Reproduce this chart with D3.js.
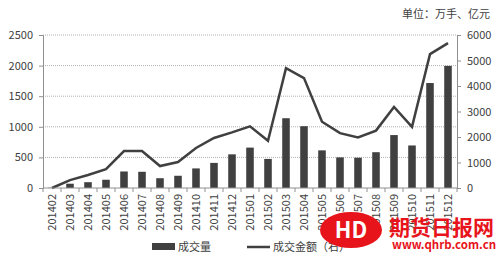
<!DOCTYPE html>
<html>
<head>
<meta charset="utf-8">
<script src="https://cdn.jsdelivr.net/npm/d3@7"></script>
<style>
  body { margin: 0; background: #fff; }
  text { font-family: "Noto Sans CJK SC", "DejaVu Sans", sans-serif; }
</style>
</head>
<body>
<div id="chart"></div>
<script>
// monthly categories
const months = ["201402","201403","201404","201405","201406","201407","201408","201409","201410","201411","201412",
  "201501","201502","201503","201504","201505","201506","201507","201508","201509","201510","201511","201512"];
// 成交量 (万手), left axis
const volume = [5,70,95,135,270,265,160,200,320,410,550,660,475,1140,1010,615,500,495,585,865,695,1715,1995];
// 成交金额 (亿元), right axis
const amount = [0,310,510,740,1450,1450,860,1020,1570,1960,2180,2420,1850,4700,4310,2600,2150,1980,2250,3180,2400,5250,5680];
const leftTicks = [0,500,1000,1500,2000,2500];
const rightTicks = [0,1000,2000,3000,4000,5000,6000];

const W = 500, H = 261;
const margin = {top: 35, right: 43, bottom: 73, left: 43};
const width = W - margin.left - margin.right,
      height = H - margin.top - margin.bottom;
const dark = "#404040";

const svg = d3.select("#chart").append("svg")
  .attr("width", W).attr("height", H);
const g = svg.append("g")
  .attr("transform", "translate(" + margin.left + "," + margin.top + ")");

const x = d3.scaleBand().domain(months).range([0, width]).paddingInner(0.58).paddingOuter(0.29);
const xb = d3.scaleBand().domain(months).range([0, width]);
const yL = d3.scaleLinear().domain([0, 2500]).range([height, 0]);
const yR = d3.scaleLinear().domain([0, 6000]).range([height, 0]);

// gridlines
g.selectAll("line.grid").data(leftTicks.slice(1)).enter().append("line")
  .attr("x1", 0).attr("x2", width)
  .attr("y1", d => yL(d)).attr("y2", d => yL(d))
  .attr("stroke", "#b0b0b0").attr("stroke-width", 1)
  .attr("stroke-dasharray", "1,1");

// bars
g.selectAll("rect.bar").data(volume).enter().append("rect")
  .attr("x", (d, i) => x(months[i]))
  .attr("width", x.bandwidth())
  .attr("y", d => yL(d))
  .attr("height", d => height - yL(d))
  .attr("fill", dark);

// line
g.append("path").datum(amount)
  .attr("fill", "none").attr("stroke", dark).attr("stroke-width", 2.5)
  .attr("stroke-linejoin", "miter")
  .attr("d", d3.line()
    .x((d, i) => xb(months[i]) + xb.bandwidth() / 2)
    .y(d => yR(d)));

// left axis
const axL = g.append("g").call(d3.axisLeft(yL).tickValues(leftTicks).tickFormat(d3.format("d")).tickSize(4).tickPadding(6));
// right axis
const axR = g.append("g").attr("transform", "translate(" + width + ",0)")
  .call(d3.axisRight(yR).tickValues(rightTicks).tickFormat(d3.format("d")).tickSize(4).tickPadding(6));
[axL, axR].forEach(a => {
  a.select(".domain").attr("stroke", "#909090");
  a.selectAll(".tick line").attr("stroke", "#909090");
  a.selectAll("text").attr("font-size", 11).attr("fill", "#404040")
    .attr("font-family", "\"Open Sans\", \"DejaVu Sans\", sans-serif");
});

// bottom axis with ticks between categories
const axB = g.append("g").attr("transform", "translate(0," + height + ")");
axB.append("line").attr("x1", 0).attr("x2", width).attr("stroke", "#909090");
axB.selectAll("line.tk").data(d3.range(months.length + 1)).enter().append("line")
  .attr("x1", i => i * xb.step()).attr("x2", i => i * xb.step())
  .attr("y1", 0).attr("y2", 4).attr("stroke", "#909090");
axB.selectAll("text").data(months).enter().append("text")
  .attr("transform", d => "translate(" + (xb(d) + xb.bandwidth() / 2 + 4) + ",6) rotate(-90)")
  .attr("text-anchor", "end")
  .attr("font-size", 11).attr("fill", "#404040")
  .attr("font-family", "\"Open Sans\", \"DejaVu Sans\", sans-serif")
  .text(d => d);

// unit label
svg.append("text").attr("x", 490).attr("y", 18).attr("text-anchor", "end")
  .attr("font-size", 11).attr("fill", "#404040").text("单位：万手、亿元");

// legend
const lg = svg.append("g").attr("transform", "translate(0,247)");
lg.append("rect").attr("x", 152).attr("y", -4).attr("width", 23).attr("height", 7).attr("fill", dark);
lg.append("text").attr("x", 178).attr("y", 4).attr("font-size", 11).attr("fill", "#404040").text("成交量");
lg.append("line").attr("x1", 247).attr("x2", 270).attr("y1", 0).attr("y2", 0)
  .attr("stroke", dark).attr("stroke-width", 2.5);
lg.append("text").attr("x", 273).attr("y", 4).attr("font-size", 11).attr("fill", "#404040").text("成交金额（右）");

// watermark
const wm = svg.append("g");
wm.append("ellipse").attr("cx", 351).attr("cy", 230).attr("rx", 31).attr("ry", 18).attr("fill", "#e8141b");
wm.append("text").attr("x", 351).attr("y", 238).attr("text-anchor", "middle")
  .attr("font-size", 22).attr("font-weight", "bold").attr("fill", "#fff")
  .attr("font-family", "\"DejaVu Serif\", serif").text("HD");
wm.append("text").attr("x", 389).attr("y", 235)
  .attr("font-size", 21).attr("font-weight", "bold").attr("fill", "#e8141b")
  .attr("font-family", "\"Noto Sans CJK SC\", sans-serif").text("期货日报网");
wm.append("text").attr("x", 392).attr("y", 249)
  .attr("font-size", 11.5).attr("font-weight", "bold").attr("fill", "#e8141b")
  .attr("font-family", "\"Liberation Serif\", serif").text("www.qhrb.com.cn");
</script>
</body>
</html>
